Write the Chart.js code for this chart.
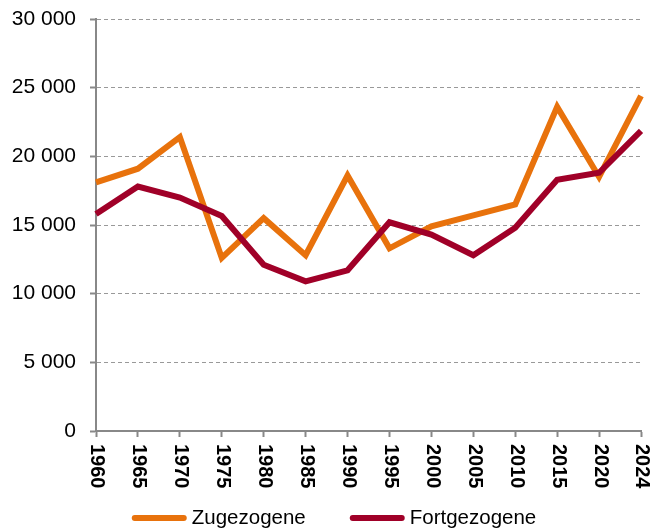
<!DOCTYPE html>
<html>
<head>
<meta charset="utf-8">
<script src="https://cdn.jsdelivr.net/npm/chart.js@4"></script>
<style>
  body { margin: 0; background: #fff; }
  canvas { display: block; }
</style>
</head>
<body>
<canvas id="migrationChart" width="668" height="530"></canvas>
<script>
const years = ["1960", "1965", "1970", "1975", "1980", "1985", "1990", "1995", "2000", "2005", "2010", "2015", "2020", "2024"];
const zugezogene = [18100, 19100, 21400, 12600, 15500, 12800, 18600, 13300, 14900, 15700, 16500, 23600, 18500, 24400];
const fortgezogene = [15800, 17800, 17000, 15650, 12100, 10900, 11700, 15200, 14300, 12800, 14800, 18300, 18800, 21850];
const yTicks = [0, 5000, 10000, 15000, 20000, 25000, 30000];

const ORANGE = '#E8720C';
const DARKRED = '#A00028';
const FONT = "'Liberation Sans', Arial, sans-serif";

function formatNumber(v) {
  return String(v).replace(/\B(?=(\d{3})+(?!\d))/g, ' ');
}

// x labels turned 90 degrees clockwise, reading top to bottom
const rotatedXLabels = {
  id: 'rotatedXLabels',
  afterDraw(chart) {
    const ctx = chart.ctx;
    const xScale = chart.scales.x;
    ctx.save();
    ctx.font = 'bold 20px ' + FONT;
    ctx.fillStyle = '#000';
    ctx.textAlign = 'left';
    ctx.textBaseline = 'middle';
    xScale.ticks.forEach((tick, i) => {
      const x = xScale.getPixelForTick(i);
      ctx.save();
      ctx.translate(x + 1, chart.chartArea.bottom + 13);
      ctx.rotate(Math.PI / 2);
      ctx.fillText(years[i], 0, 0);
      ctx.restore();
    });
    ctx.restore();
  }
};

// legend drawn by hand so line samples and gaps match
const lineLegend = {
  id: 'lineLegend',
  afterDraw(chart) {
    const ctx = chart.ctx;
    const lineLen = 55, textGap = 5, itemGap = 44, y = 518;
    ctx.save();
    ctx.font = '20.5px ' + FONT;
    ctx.textBaseline = 'middle';
    const items = chart.data.datasets.map(ds => ({
      label: ds.label,
      color: ds.borderColor,
      w: lineLen + textGap + ctx.measureText(ds.label).width
    }));
    let total = items.reduce((s, it) => s + it.w, 0) + itemGap * (items.length - 1);
    let x = (chart.width - total) / 2;
    items.forEach(it => {
      ctx.strokeStyle = it.color;
      ctx.lineWidth = 6;
      ctx.lineCap = 'round';
      ctx.beginPath();
      ctx.moveTo(x + 3, y);
      ctx.lineTo(x + lineLen - 3, y);
      ctx.stroke();
      ctx.fillStyle = '#000';
      ctx.fillText(it.label, x + lineLen + textGap, y);
      x += it.w + itemGap;
    });
    ctx.restore();
  }
};

const ctx = document.getElementById('migrationChart').getContext('2d');
new Chart(ctx, {
  type: 'line',
  data: {
    labels: years,
    datasets: [
      {
        label: 'Zugezogene',
        data: zugezogene,
        borderColor: ORANGE,
        backgroundColor: ORANGE,
        borderWidth: 6,
        pointRadius: 0,
        tension: 0,
        order: 1
      },
      {
        label: 'Fortgezogene',
        data: fortgezogene,
        borderColor: DARKRED,
        backgroundColor: DARKRED,
        borderWidth: 6,
        pointRadius: 0,
        tension: 0,
        order: 0
      }
    ]
  },
  options: {
    responsive: false,
    animation: false,
    layout: { padding: { top: 19, right: 27, bottom: 0, left: 0 } },
    plugins: {
      legend: { display: false },
      tooltip: { enabled: false }
    },
    scales: {
      x: {
        offset: false,
        grid: {
          offset: false,
          drawOnChartArea: false,
          drawTicks: true,
          tickLength: 6,
          tickColor: '#888',
          tickWidth: 2
        },
        border: { color: '#888', width: 2 },
        ticks: { display: false },
        afterFit(scale) { scale.height = 99; }
      },
      y: {
        min: 0,
        max: 30000,
        afterBuildTicks(scale) { scale.ticks = yTicks.map(v => ({ value: v })); },
        grid: {
          color: '#999',
          lineWidth: 1,
          tickBorderDash: [],
          tickColor: '#888',
          tickWidth: 2,
          tickLength: 6
        },
        border: { color: '#888', width: 2, dash: [4, 3] },
        ticks: {
          padding: 14,
          color: '#000',
          font: { family: FONT, size: 21 },
          callback: v => formatNumber(v)
        },
        afterFit(scale) {
          scale.width = 96;
          scale.paddingTop = 0;
          scale.paddingBottom = 0;
        }
      }
    }
  },
  plugins: [rotatedXLabels, lineLegend]
});
</script>
</body>
</html>
